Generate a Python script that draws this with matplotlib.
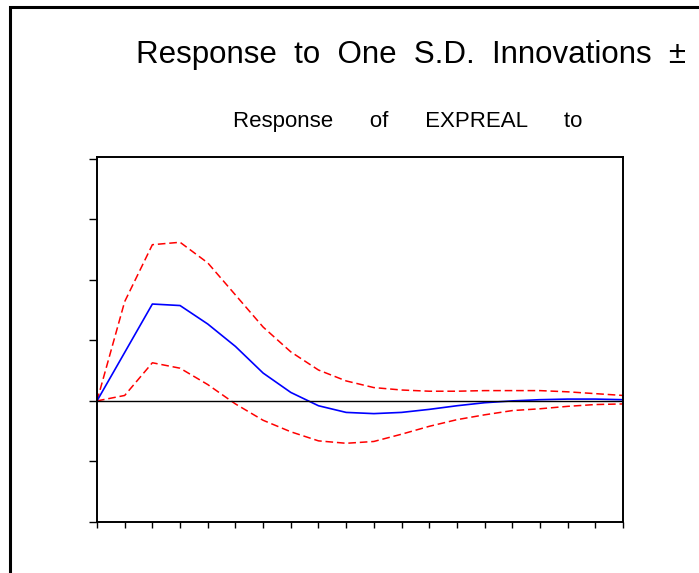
import matplotlib.pyplot as plt
from matplotlib.patches import Rectangle

# periode 1..20 og impulsrespons med +/- 2 S.E. bånd
periods = list(range(1, 21))
response = [0.00, 0.80, 1.60, 1.575, 1.27, 0.90, 0.46, 0.14, -0.08, -0.19,
            -0.21, -0.19, -0.14, -0.08, -0.03, 0.00, 0.02, 0.03, 0.03, 0.02]
upper = [0.00, 1.64, 2.58, 2.62, 2.28, 1.75, 1.22, 0.81, 0.51, 0.33,
         0.22, 0.18, 0.16, 0.16, 0.17, 0.17, 0.17, 0.15, 0.12, 0.09]
lower = [0.00, 0.09, 0.63, 0.54, 0.27, -0.05, -0.32, -0.51, -0.66, -0.70,
         -0.67, -0.55, -0.42, -0.31, -0.23, -0.16, -0.13, -0.09, -0.06, -0.05]
yticks = [-2, -1, 0, 1, 2, 3, 4]

plt.rcParams['font.family'] = ['Liberation Sans', 'DejaVu Sans']

W, H = 699, 573
fig = plt.figure(figsize=(W / 100, H / 100), dpi=100)
ax = fig.add_axes([97 / W, 1 - 522 / H, (623 - 97) / W, (522 - 157.5) / H])

ax.plot(periods, upper, color='#ff0000', lw=1.1, linestyle=(0, (5, 2.5)))
ax.plot(periods, lower, color='#ff0000', lw=1.1, linestyle=(0, (5, 2.5)))
ax.plot(periods, response, color='#0000ff', lw=1.2)
ax.axhline(0, color='black', lw=1.0)

ax.set_xlim(1, 20)
ax.set_ylim(-2, 4.02)
ax.set_xticks(periods)
ax.set_yticks(yticks)
ax.set_xticklabels([])
ax.set_yticklabels([])
ax.tick_params(axis='y', direction='out', length=6, width=1.0, color='black')
ax.tick_params(axis='x', direction='out', length=4.5, width=1.0, color='black')
for s in ax.spines.values():
    s.set_linewidth(1.4)
    s.set_color('black')

# tittel og undertittel (ordene står med brede mellomrom)
fig.text(136 / W, 1 - 63 / H, 'Response  to  One  S.D.  Innovations  \u00b1',
         fontsize=22.5, ha='left', va='baseline', color='black')
fig.text(233 / W, 1 - 127 / H, 'Response      of      EXPREAL      to',
         fontsize=16, ha='left', va='baseline', color='black')

# ramme rundt figuren (høyre og nedre kant er kuttet)
fig.add_artist(Rectangle((10 / W, -0.1), 2.0, 1 - 7 / H + 0.1, fill=False,
                         lw=2.2, edgecolor='black', transform=fig.transFigure,
                         clip_on=False))

fig.savefig('out.png', dpi=100, facecolor='white')
